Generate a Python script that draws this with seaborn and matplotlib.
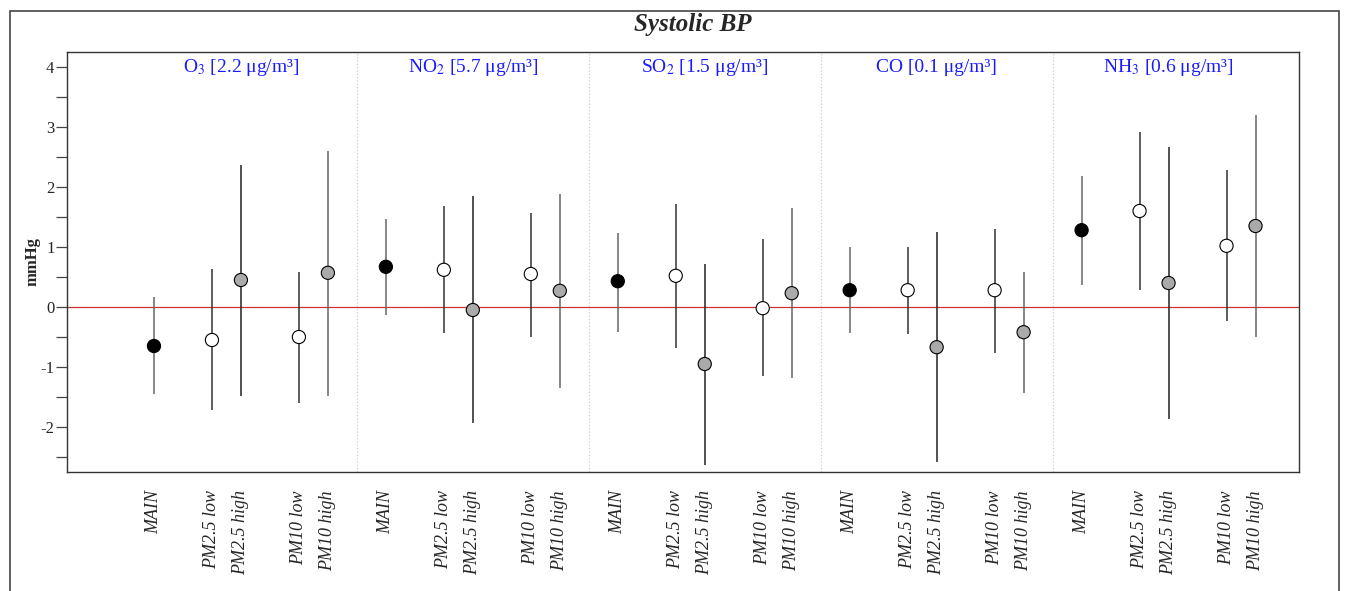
import seaborn as sns
import matplotlib.pyplot as plt
from matplotlib.patches import Rectangle
import numpy as np
import pandas as pd

sns.set_style("white")
plt.rcParams['font.family'] = ['Liberation Serif', 'DejaVu Serif']
plt.rcParams['mathtext.fontset'] = 'stix'

POLLUTANTS = [r"O$_3$ [2.2 μg/m³]", r"NO$_2$ [5.7 μg/m³]", r"SO$_2$ [1.5 μg/m³]",
              "CO [0.1 μg/m³]", r"NH$_3$ [0.6 μg/m³]"]
MODELS = ["MAIN", "PM2.5 low", "PM2.5 high", "PM10 low", "PM10 high"]

# estimates and 95% CI per pollutant (order of MODELS)
EST = [[-0.65, -0.55, 0.45, -0.50, 0.57],
       [0.67, 0.62, -0.05, 0.55, 0.27],
       [0.43, 0.52, -0.95, -0.02, 0.23],
       [0.28, 0.28, -0.67, 0.28, -0.42],
       [1.28, 1.60, 0.40, 1.02, 1.35]]
LOW = [[-1.45, -1.72, -1.48, -1.60, -1.48],
       [-0.13, -0.43, -1.93, -0.50, -1.35],
       [-0.42, -0.68, -2.63, -1.15, -1.18],
       [-0.43, -0.45, -2.58, -0.77, -1.43],
       [0.37, 0.28, -1.87, -0.23, -0.50]]
HIGH = [[0.17, 0.63, 2.37, 0.58, 2.60],
        [1.47, 1.68, 1.85, 1.57, 1.88],
        [1.23, 1.72, 0.72, 1.13, 1.65],
        [1.00, 1.00, 1.25, 1.30, 0.58],
        [2.18, 2.92, 2.67, 2.28, 3.20]]

offsets = [1, 3, 4, 6, 7]
fill = {"MAIN": "black", "PM2.5 low": "white", "PM2.5 high": "#aaaaaa",
        "PM10 low": "white", "PM10 high": "#aaaaaa"}
line_col = {"MAIN": "#666666", "PM2.5 low": "#333333", "PM2.5 high": "#222222",
            "PM10 low": "#333333", "PM10 high": "#666666"}

rows = []
for g, pol in enumerate(POLLUTANTS):
    for m, model in enumerate(MODELS):
        rows.append(dict(group=pol, model=model, x=offsets[m] + 8 * g,
                         est=EST[g][m], lo=LOW[g][m], hi=HIGH[g][m]))
df = pd.DataFrame(rows)

fig = plt.figure(figsize=(13.45, 5.91), dpi=100)
ax = fig.add_axes([67 / 1345, 119 / 591, 1232 / 1345, 420 / 591])

# outer frame and title
fig.patches.append(Rectangle((10 / 1345, -0.1), 1329 / 1345, 0.1 + 580 / 591,
                             transform=fig.transFigure, fill=False,
                             edgecolor="#444444", linewidth=1.2))
fig.text(0.515, 1 - 25 / 591, "Systolic BP", ha="center", va="center",
         fontsize=18, fontweight="bold", fontstyle="italic")

ax.axhline(0, color="#cc3333", linewidth=0.9, zorder=1)
for sep in [8, 16, 24, 32]:
    ax.axvline(sep, color="#cccccc", linewidth=0.9, linestyle=":", zorder=1)

for model in MODELS:
    d = df[df.model == model]
    ax.vlines(d.x, d.lo, d.hi, color=line_col[model], linewidth=1.1, zorder=2)

sns.scatterplot(data=df, x="x", y="est", hue="model", palette=fill,
                edgecolor="black", linewidth=0.8, s=90, legend=False,
                ax=ax, zorder=3)

for g, pol in enumerate(POLLUTANTS):
    ax.text(4 + 8 * g, 4.0, pol, color="#1a1aff", ha="center", va="center",
            fontsize=14)

ax.set_xlim(-2, 40.5)
ax.set_ylim(-2.75, 4.25)
ax.set_xticks(df.x)
ax.set_xticklabels(df.model, rotation=90, fontstyle="italic", fontsize=13)
ax.tick_params(axis="x", length=0, pad=13)
ax.set_yticks([-2, -1, 0, 1, 2, 3, 4])
ax.set_yticklabels(["-2", "-1", "0", "1", "2", "3", "4"])
ax.set_yticks(np.arange(-2.5, 4.5, 1.0), minor=True)
ax.tick_params(axis="y", which="both", direction="out", length=8, width=0.9,
               color="#444444", labelsize=12, left=True, pad=1)
ax.set_xlabel("")
ax.set_ylabel("mmHg", fontsize=12, fontweight="bold", labelpad=0)
for s in ax.spines.values():
    s.set_color("#333333")
    s.set_linewidth(1.0)

fig.savefig("out.png", dpi=100)
